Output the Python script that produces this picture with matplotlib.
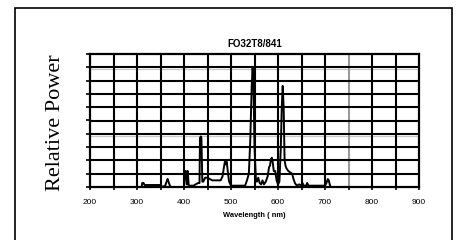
import numpy as np
import matplotlib
matplotlib.use('Agg')
import matplotlib.pyplot as plt
from matplotlib.patches import Rectangle
from matplotlib.ticker import MultipleLocator

# spectrum (wavelength nm, relative power 0..1)
wavelength = [310, 311, 314, 316, 350, 354, 360, 363, 365, 367, 370, 372,
              400, 402, 404, 406, 408, 410, 420, 430, 433, 434, 436, 437, 439,
              441, 445, 450, 455, 460, 470, 478, 482, 485, 487, 489, 491, 493,
              496, 500, 510, 530, 534, 538, 541, 544, 546, 548, 550, 553, 555,
              558, 561, 564, 567, 570, 574, 578, 581, 583, 585, 587, 589, 591,
              594, 597, 600, 603, 606, 608, 610, 612, 614, 616, 618, 622, 626,
              630, 633, 636, 640, 645, 650, 652, 655, 660, 662, 665, 670, 680,
              690, 700, 703, 706, 708, 710, 712]
power = [0.0, 0.03, 0.03, 0.015, 0.015, 0.0, 0.01, 0.04, 0.06, 0.04, 0.01, 0.0,
         0.0, 0.12, 0.12, 0.02, 0.12, 0.01, 0.01, 0.03, 0.03, 0.37, 0.38, 0.37, 0.04,
         0.04, 0.07, 0.07, 0.06, 0.05, 0.05, 0.05, 0.08, 0.15, 0.19, 0.17, 0.19, 0.12,
         0.04, 0.01, 0.01, 0.01, 0.05, 0.1, 0.35, 0.75, 0.9, 0.75, 0.3, 0.06, 0.04,
         0.07, 0.03, 0.02, 0.05, 0.02, 0.04, 0.08, 0.15, 0.16, 0.21, 0.22, 0.18, 0.12,
         0.12, 0.05, 0.02, 0.04, 0.3, 0.6, 0.76, 0.6, 0.2, 0.16, 0.14, 0.12, 0.11,
         0.1, 0.06, 0.03, 0.01, 0.02, 0.01, 0.03, 0.01, 0.01, 0.03, 0.01, 0.01, 0.01,
         0.01, 0.01, 0.03, 0.06, 0.05, 0.02, 0.0]

title = 'FO32T8/841'
x_label = 'Wavelength ( nm)'
y_label = 'Relative Power'

plt.rcParams['font.family'] = ['Liberation Sans', 'DejaVu Sans']

fig = plt.figure(figsize=(4.61, 2.40), dpi=100)
ax = fig.add_axes([90 / 461, 1 - 187 / 240, (419 - 90) / 461, (187 - 54) / 240])

# outer frame
fig.patches.append(Rectangle((15 / 461, -0.1), (452 - 15) / 461, 1.1 - 8 / 240,
                             transform=fig.transFigure, fill=False,
                             edgecolor='black', linewidth=1.2))

ax.set_xlim(200, 900)
ax.set_ylim(0, 1)

# grid
for gx in np.arange(250, 900, 50):
    col = '#9a9a9a' if gx == 750 else 'black'
    ax.axvline(gx, color=col, linewidth=1.5, zorder=1)
for gy in np.arange(0.1, 1.0, 0.1):
    ax.axhline(gy, color='black', linewidth=1.5, zorder=1)
ax.axhline(0.885, color='#c8c8c8', linewidth=0.9, zorder=0.5)
ax.axhline(0.385, color='#c8c8c8', linewidth=0.9, zorder=0.5)

ax.plot(wavelength, power, color='black', linewidth=1.4, zorder=3)

for s in ax.spines.values():
    s.set_linewidth(1.6)

ax.xaxis.set_major_locator(MultipleLocator(100))
ax.xaxis.set_minor_locator(MultipleLocator(50))
ax.yaxis.set_major_locator(MultipleLocator(0.1))
ax.tick_params(axis='x', which='both', direction='out', length=2, width=1.2,
               labelsize=6, pad=7)
ax.tick_params(axis='y', direction='out', length=3, width=1.2, labelleft=False)

ax.set_title(title, fontsize=7, fontweight='bold', pad=5)
ax.set_xlabel(x_label, fontsize=5.4, fontweight='bold', labelpad=4)
fig.text(55 / 461, 1 - 123 / 240, y_label, rotation=90, ha='center', va='center',
         fontsize=16, family='Liberation Serif')

fig.savefig('out.png', dpi=100)
